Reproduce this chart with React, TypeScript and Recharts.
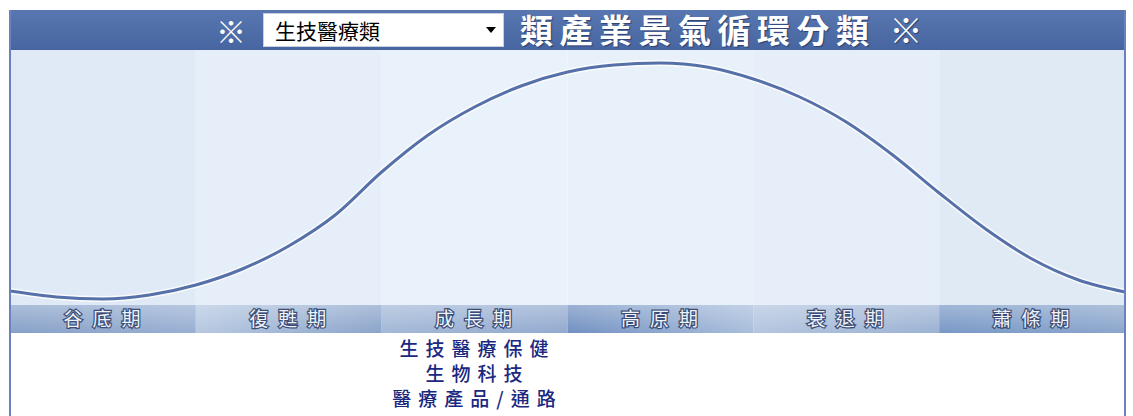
import { LineChart, Line, XAxis, YAxis, ReferenceArea } from 'recharts';

// business-cycle phases, left to right
const phases = ['谷底期', '復甦期', '成長期', '高原期', '衰退期', '蕭條期'];
const phaseTicks = [0.5, 1.5, 2.5, 3.5, 4.5, 5.5];

// industries listed under each phase
const industries: string[][] = [
  [],
  [],
  ['生技醫療保健', '生物科技', '醫療產品/通路'],
  [],
  [],
  [],
];

// cycle curve: position (in phase units) and level
const curveX = [0, 0.25, 0.5, 0.75, 1, 1.25, 1.5, 1.75, 2, 2.25, 2.5, 2.75, 3, 3.25, 3.5, 3.75, 4, 4.25, 4.5, 4.75, 5, 5.25, 5.5, 5.75, 6];
const curveLevel = [14, 8, 6, 10, 20, 36, 59, 90, 133, 170, 198, 219, 233, 240, 242, 238, 226, 208, 183, 150, 112, 76, 46, 25, 13];

const selectedSector = '生技醫療類';
const titleText = '類產業景氣循環分類 ※';

const curveData = curveX.map((x, i) => ({ x, level: curveLevel[i] }));

const CHART_W = 1115;
const COL_W = CHART_W / 6;
const FONT = '"Noto Sans CJK TC", "Noto Sans", sans-serif';

const columnFills = ['#e0eaf6', '#e6eff9', '#e9f1fb', '#e8f1fa', '#e5eef9', '#e0eaf5'];
const bandStops = [
  ['#87a1c8', '#98afd2'],
  ['#b6c8e1', '#8aa4ca'],
  ['#a3b8d7', '#92aacf'],
  ['#7190c1', '#a9bedc'],
  ['#b3c5df', '#9bb2d3'],
  ['#7898c6', '#8ba6cc'],
];

const PhaseTick = (props: any) => {
  const { x, y, payload } = props;
  const idx = phaseTicks.indexOf(payload.value);
  if (idx < 0) return null;
  const left = x - COL_W / 2;
  return (
    <g>
      <rect x={left} y={y} width={COL_W} height={28} fill={`url(#band${idx})`} />
      <rect x={left} y={y} width={COL_W} height={28} fill="url(#bandShine)" />
      <text
        x={x + 4}
        y={y + 21}
        textAnchor="middle"
        fontFamily={FONT}
        fontSize={19}
        letterSpacing={10}
        fill="#eef3fa"
        stroke="#3b4c76"
        strokeWidth={2.4}
        paintOrder="stroke"
      >
        {phases[idx]}
      </text>
      {industries[idx].map((name, j) => (
        <text
          key={name}
          x={x + 3}
          y={y + 51 + j * 25}
          textAnchor="middle"
          fontFamily={FONT}
          fontSize={19}
          fontWeight={500}
          letterSpacing={7}
          fill="#1a2880"
        >
          {name}
        </text>
      ))}
    </g>
  );
};

export default function App() {
  return (
    <div style={{ position: 'absolute', left: 0, top: 0, width: 1133, height: 416, background: '#ffffff', overflow: 'hidden', fontFamily: FONT }}>
      {/* header bar */}
      <div style={{ position: 'absolute', left: 10, top: 10, width: 1116, height: 40, background: 'linear-gradient(#5877b0, #4765a0)' }} />
      <div style={{ position: 'absolute', left: 216, top: 10, height: 40, lineHeight: '40px', fontSize: 30, color: '#ffffff' }}>※</div>
      <div style={{ position: 'absolute', left: 263, top: 13, width: 241, height: 34, background: '#ffffff', border: '1px solid #c8d0e0', boxSizing: 'border-box' }}>
        <span style={{ position: 'absolute', left: 11, top: 0, lineHeight: '32px', fontSize: 21, color: '#000000' }}>{selectedSector}</span>
        <svg style={{ position: 'absolute', left: 222, top: 13 }} width={10} height={6}>
          <polygon points="0,0 10,0 5,6" fill="#000000" />
        </svg>
      </div>
      <div style={{ position: 'absolute', left: 520, top: 8, height: 42, lineHeight: '42px', fontSize: 33, fontWeight: 700, letterSpacing: 6.5, color: '#ffffff', whiteSpace: 'nowrap', textShadow: '1px 1px 1px #2c3f6e' }}>
        {titleText}
      </div>

      {/* chart */}
      <div style={{ position: 'absolute', left: 10, top: 50 }}>
        <LineChart width={CHART_W} height={366} data={curveData} margin={{ top: 0, right: 0, left: 0, bottom: 0 }}>
          <defs>
            {bandStops.map((s, i) => (
              <linearGradient key={i} id={`band${i}`} x1="0" y1="0" x2="1" y2="0">
                <stop offset="0%" stopColor={s[0]} />
                <stop offset="100%" stopColor={s[1]} />
              </linearGradient>
            ))}
            <linearGradient id="bandShine" x1="0" y1="0" x2="0" y2="1">
              <stop offset="0%" stopColor="#ffffff" stopOpacity={0.3} />
              <stop offset="100%" stopColor="#ffffff" stopOpacity={0} />
            </linearGradient>
          </defs>
          {columnFills.map((c, i) => (
            <ReferenceArea key={i} x1={i} x2={i + 1} fill={c} fillOpacity={1} stroke="none" ifOverflow="visible" />
          ))}
          <XAxis
            type="number"
            dataKey="x"
            domain={[0, 6]}
            ticks={phaseTicks}
            interval={0}
            height={111}
            tickSize={0}
            tickMargin={0}
            axisLine={false}
            tickLine={false}
            tick={<PhaseTick />}
            allowDataOverflow
          />
          <YAxis hide domain={[0, 255]} allowDataOverflow />
          <Line type="monotone" dataKey="level" stroke="#ffffff" strokeOpacity={0.8} strokeWidth={6} dot={false} activeDot={false} isAnimationActive={false} />
          <Line type="monotone" dataKey="level" stroke="#5671a9" strokeWidth={3} dot={false} activeDot={false} isAnimationActive={false} />
        </LineChart>
      </div>

      {/* frame sides */}
      <div style={{ position: 'absolute', left: 9, top: 10, width: 2, height: 406, background: '#6b80bf' }} />
      <div style={{ position: 'absolute', left: 1124, top: 10, width: 2, height: 406, background: '#6b80bf' }} />
    </div>
  );
}
